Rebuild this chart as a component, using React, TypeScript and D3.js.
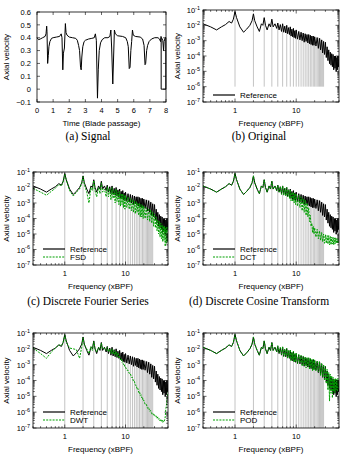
import React, {useEffect, useRef} from "react";
import * as d3 from "d3";

// axial velocity over eight blade passages: [time, velocity]
const signal: [number, number][] = [
	[0, 0.4], [0.1, 0.385], [0.2, 0.39], [0.35, 0.4], [0.5, 0.41], [0.56, 0.43], [0.6, 0.49], [0.62, 0.45],
	[0.66, 0.2], [0.7, 0.26], [0.74, 0.33], [0.8, 0.37], [0.9, 0.395], [1.0, 0.4], [1.2, 0.405], [1.4, 0.41],
	[1.5, 0.43], [1.55, 0.4], [1.6, 0.15], [1.64, 0.28], [1.7, 0.32], [1.76, 0.51], [1.8, 0.44], [1.86, 0.42],
	[2.0, 0.405], [2.2, 0.4], [2.4, 0.395], [2.5, 0.38], [2.58, 0.34], [2.64, 0.3], [2.7, 0.17], [2.74, 0.15],
	[2.78, 0.25], [2.84, 0.33], [2.92, 0.37], [3.0, 0.38], [3.2, 0.39], [3.4, 0.395], [3.55, 0.4], [3.62, 0.43],
	[3.68, 0.38], [3.75, -0.07], [3.8, 0.15], [3.86, 0.3], [3.94, 0.36], [4.04, 0.385], [4.2, 0.4], [4.4, 0.4],
	[4.52, 0.41], [4.58, 0.46], [4.63, 0.32], [4.7, 0.04], [4.75, 0.25], [4.8, 0.46], [4.86, 0.43], [5.0, 0.415],
	[5.3, 0.41], [5.5, 0.4], [5.6, 0.37], [5.66, 0.33], [5.72, 0.16], [5.77, 0.17], [5.82, 0.3], [5.87, 0.37],
	[5.92, 0.46], [5.97, 0.42], [6.1, 0.41], [6.4, 0.405], [6.55, 0.39], [6.64, 0.34], [6.7, 0.19], [6.74, 0.2],
	[6.8, 0.3], [6.86, 0.34], [6.95, 0.37], [7.1, 0.39], [7.3, 0.4], [7.5, 0.4], [7.6, 0.39], [7.66, 0.37],
	[7.69, 0.41], [7.72, 0.4], [7.8, 0.38], [7.85, 0.3], [7.88, 0.37], [7.95, 0.4], [7.99, 0.4], [7.99, 0],
	[7.7, 0], [7.7, 0.4],
];

const signalXTicks = [0, 1, 2, 3, 4, 5, 6, 7, 8];
const signalYTicks = [-0.1, 0, 0.1, 0.2, 0.3, 0.4, 0.5, 0.6];

// frequency grid (xBPF) shared by every spectrum
const frequencies = [
	0.3, 0.4, 0.5, 0.6, 0.7, 0.8, 0.88, 0.94, 1.0, 1.06,
	1.2, 1.38, 1.55, 1.75, 1.9, 2.0, 2.1, 2.3, 2.5, 2.7,
	2.85, 3.0, 3.15, 3.35, 3.6, 3.8, 4.0, 4.2, 4.5, 4.8,
	5.0, 5.25, 5.5, 5.75, 6.0, 6.25, 6.5, 6.75, 7.0, 7.25, 7.5, 7.75, 8.0, 8.25, 8.5, 8.75, 9.0, 9.25, 9.5, 9.75,
	10, 10.5, 11, 11.5, 12, 12.5, 13, 13.5, 14, 14.5, 15, 15.5, 16, 16.5, 17, 17.5, 18, 18.5, 19, 19.5,
	20, 21, 22, 23, 24, 25, 26, 27, 28, 29, 30, 31, 32, 33, 34, 35, 36, 37, 38, 39, 40,
	41, 42, 43, 44, 45, 46, 47, 48, 49, 50,
];

// log10 amplitudes on the grid above
const referenceLog = [
	-1.9, -2.1, -2.3, -2.1, -1.95, -1.75, -1.85, -1.6, -1.1, -1.5,
	-2.1, -2.45, -2.25, -2.0, -1.7, -1.25, -1.7, -2.1, -2.4, -1.9,
	-2.0, -1.5, -2.0, -2.3, -1.9, -2.1, -1.6, -2.1, -1.9, -2.2,
	-1.85, -2.3, -1.95, -2.4, -1.9, -2.45, -2.05, -2.5, -2.0, -2.55, -2.15, -2.6, -2.1, -2.7, -2.25, -2.75, -2.2, -2.8, -2.35, -2.85,
	-2.3, -2.9, -2.4, -2.95, -2.45, -3.0, -2.5, -3.1, -2.55, -3.05, -2.6, -3.15, -2.6, -3.2, -2.65, -3.25, -2.7, -3.3, -2.7, -3.3,
	-2.75, -3.35, -2.8, -3.5, -2.85, -3.6, -2.95, -3.8, -3.05, -3.9, -3.1, -4.1, -3.4, -4.3, -3.6, -4.5, -3.75, -4.6, -3.85, -4.7, -3.9,
	-4.9, -4.0, -4.8, -4.0, -5.0, -4.1, -4.9, -4.0, -4.7, -4.2,
];

const fsdLog = [
	-2.05, -2.3, -2.5, -2.25, -2.05, -1.8, -1.9, -1.65, -1.12, -1.55,
	-2.2, -2.55, -2.3, -2.1, -1.75, -1.3, -1.8, -2.3, -3.0, -2.0,
	-2.2, -1.55, -2.2, -2.6, -2.0, -2.4, -1.7, -2.3, -2.1, -2.6,
	-1.95, -2.6, -2.05, -2.8, -2.0, -2.7, -2.2, -3.0, -2.1, -2.9, -2.3, -3.1, -2.25, -3.2, -2.4, -3.1, -2.4, -3.3, -2.5, -3.4,
	-2.5, -3.3, -2.6, -3.4, -2.7, -3.5, -2.75, -3.6, -2.85, -3.7, -2.9, -3.6, -3.0, -3.8, -3.05, -3.9, -3.1, -3.9, -3.15, -4.0,
	-3.2, -4.0, -3.3, -4.1, -3.35, -4.2, -3.45, -4.3, -3.6, -4.5, -3.7, -4.6, -3.9, -4.8, -4.1, -5.0, -4.2, -5.2, -4.3, -5.3, -4.4,
	-5.5, -4.5, -5.4, -4.5, -5.8, -4.6, -5.6, -4.5, -5.5, -4.7,
];

const dctLog = [
	-1.9, -2.1, -2.3, -2.1, -1.95, -1.75, -1.85, -1.6, -1.1, -1.5,
	-2.1, -2.45, -2.25, -2.0, -1.7, -1.25, -1.7, -2.1, -2.4, -1.9,
	-2.0, -1.5, -2.0, -2.3, -1.9, -2.1, -1.6, -2.1, -1.9, -2.2,
	-1.85, -2.3, -1.95, -2.45, -1.9, -2.5, -2.05, -2.55, -2.0, -2.6, -2.15, -2.7, -2.15, -2.85, -2.3, -2.9, -2.3, -3.0, -2.4, -3.1,
	-2.4, -3.2, -2.5, -3.3, -2.6, -3.5, -2.7, -3.6, -2.8, -3.8, -3.0, -3.9, -3.3, -4.2, -3.8, -4.5, -4.3, -4.9, -4.5, -5.0,
	-4.6, -5.2, -4.7, -5.3, -4.8, -5.4, -4.9, -5.5, -5.0, -5.6, -5.05, -5.6, -5.1, -5.65, -5.1, -5.7, -5.15, -5.7, -5.2, -5.65, -5.2,
	-5.7, -5.25, -5.65, -5.25, -5.6, -5.3, -5.6, -5.3, -5.55, -5.35,
];

const dwtLog = [
	-1.95, -2.3, -2.6, -2.2, -1.95, -1.75, -1.8, -1.6, -1.12, -1.6,
	-1.95, -2.0, -2.05, -2.6, -1.9, -1.3, -1.75, -2.0, -2.3, -1.85,
	-2.1, -1.55, -2.0, -2.2, -1.9, -2.05, -1.65, -2.0, -1.95, -2.1,
	-1.9, -2.2, -2.0, -2.3, -2.0, -2.35, -2.1, -2.4, -2.15, -2.5, -2.25, -2.55, -2.45, -2.7, -2.6, -2.85, -2.8, -3.0, -2.95, -3.15,
	-3.15, -3.35, -3.35, -3.55, -3.55, -3.8, -3.8, -4.05, -4.05, -4.3, -4.3, -4.55, -4.5, -4.75, -4.7, -4.95, -4.9, -5.1, -5.05, -5.3,
	-5.25, -5.5, -5.5, -5.75, -5.7, -5.95, -5.9, -6.1, -6.05, -6.2, -6.15, -6.3, -6.25, -6.4, -6.3, -6.45, -6.4, -6.55, -6.45, -6.6, -6.5,
	-6.65, -6.55, -6.6, -6.5, -6.3, -5.8, -5.6, -5.2, -5.0, -4.7,
];

const podLog = [
	-1.9, -2.1, -2.3, -2.1, -1.95, -1.75, -1.85, -1.6, -1.1, -1.5,
	-2.1, -2.45, -2.25, -2.0, -1.7, -1.25, -1.7, -2.1, -2.4, -1.9,
	-2.0, -1.5, -2.0, -2.3, -1.9, -2.1, -1.6, -2.1, -1.9, -2.2,
	-1.8, -2.25, -1.9, -2.35, -1.85, -2.5, -2.0, -2.45, -1.95, -2.6, -2.1, -2.55, -2.05, -2.75, -2.2, -2.7, -2.15, -2.85, -2.3, -2.8,
	-2.25, -2.95, -2.35, -2.9, -2.4, -3.1, -2.45, -3.05, -2.5, -3.2, -2.55, -3.1, -2.55, -3.3, -2.6, -3.2, -2.65, -3.4, -2.65, -3.35,
	-2.7, -3.4, -2.75, -3.45, -2.8, -3.7, -2.9, -3.75, -3.0, -4.0, -3.1, -4.2, -3.3, -4.6, -3.5, -5.3, -3.6, -4.8, -3.7, -5.1, -3.8,
	-4.7, -3.9, -4.8, -3.85, -4.6, -3.9, -4.7, -3.85, -4.5, -4.0,
];

// blade passing harmonics marked with grey impulses
const harmonics = [1, 2, 3, 4, 5, 6, 7, 8, 9, 10, 11, 12, 13, 14, 15, 16, 17, 18, 19, 20, 21, 22, 23, 24, 25, 26, 27, 28];
const freqLabels = [1, 10];

const FONT = "'Liberation Sans', Arial, Helvetica, sans-serif";
const SERIF = "'Liberation Serif', 'Times New Roman', serif";
const GREEN = "#00a000";
const GREY = "#c4c4c4";

type Box = {left: number; right: number; top: number; bottom: number};
type Sel = d3.Selection<any, unknown, null, undefined>;

interface SpectrumPanel {
	id: string;
	box: Box;
	compare: number[] | null;
	name: string;
	floor: number;
	yLabelX: number;
}

const signalBox: Box = {left: 37, right: 166, top: 12, bottom: 102};

const panels: SpectrumPanel[] = [
	{id: "b", box: {left: 203, right: 339, top: 10, bottom: 102}, compare: null, name: "", floor: 1e-6, yLabelX: 177},
	{id: "c", box: {left: 33, right: 168, top: 172, bottom: 265}, compare: fsdLog, name: "FSD", floor: 1e-7, yLabelX: 6},
	{id: "d", box: {left: 203, right: 339, top: 172, bottom: 265}, compare: dctLog, name: "DCT", floor: 1e-7, yLabelX: 177},
	{id: "e", box: {left: 33, right: 168, top: 333, bottom: 428}, compare: dwtLog, name: "DWT", floor: 1e-7, yLabelX: 6},
	{id: "f", box: {left: 203, right: 339, top: 333, bottom: 428}, compare: podLog, name: "POD", floor: 1e-7, yLabelX: 177},
];

const captions = [
	{text: "(a) Signal", x: 88, y: 140},
	{text: "(b) Original", x: 259, y: 140},
	{text: "(c) Discrete Fourier Series", x: 88, y: 305},
	{text: "(d) Discrete Cosine Transform", x: 259, y: 305},
];

function drawFrame(g: Sel, box: Box) {
	g.append("rect")
		.attr("x", box.left)
		.attr("y", box.top)
		.attr("width", box.right - box.left)
		.attr("height", box.bottom - box.top)
		.attr("fill", "none")
		.attr("stroke", "#000")
		.attr("stroke-width", 0.8);
}

// gnuplot style: ticks point inward and are mirrored on the opposite side
function xTick(g: Sel, box: Box, x: number, len: number) {
	g.append("line").attr("x1", x).attr("x2", x).attr("y1", box.bottom).attr("y2", box.bottom - len);
	g.append("line").attr("x1", x).attr("x2", x).attr("y1", box.top).attr("y2", box.top + len);
}

function yTick(g: Sel, box: Box, y: number, len: number) {
	g.append("line").attr("y1", y).attr("y2", y).attr("x1", box.left).attr("x2", box.left + len);
	g.append("line").attr("y1", y).attr("y2", y).attr("x1", box.right).attr("x2", box.right - len);
}

function axisTitles(g: Sel, box: Box, xTitle: string, yLabelX: number) {
	g.append("text")
		.attr("x", (box.left + box.right) / 2)
		.attr("y", box.bottom + 23.5)
		.attr("text-anchor", "middle")
		.style("font-size", "8px")
		.text(xTitle);
	const cy = (box.top + box.bottom) / 2;
	g.append("text")
		.attr("transform", `translate(${yLabelX + 3}, ${cy}) rotate(-90)`)
		.attr("text-anchor", "middle")
		.style("font-size", "8px")
		.text("Axial velocity");
}

function drawSignal(svg: Sel) {
	const box = signalBox;
	const g = svg.append("g").style("font-family", FONT);
	const x = d3.scaleLinear().domain([0, 8]).range([box.left, box.right]);
	const y = d3.scaleLinear().domain([-0.1, 0.6]).range([box.bottom, box.top]);

	const line = d3
		.line<[number, number]>()
		.x((d) => x(d[0]))
		.y((d) => y(d[1]));

	g.append("path")
		.datum(signal)
		.attr("fill", "none")
		.attr("stroke", "#000")
		.attr("stroke-width", 1)
		.attr("stroke-linejoin", "round")
		.attr("d", line);

	const ticks = g.append("g").attr("stroke", "#000").attr("stroke-width", 0.6);
	signalXTicks.forEach((t) => xTick(ticks, box, x(t), 3));
	signalYTicks.forEach((v) => yTick(ticks, box, y(v), 3));
	drawFrame(g, box);

	signalXTicks.forEach((t) => {
		g.append("text")
			.attr("x", x(t))
			.attr("y", box.bottom + 11)
			.attr("text-anchor", "middle")
			.style("font-size", "7.5px")
			.text(String(t));
	});
	signalYTicks.forEach((v) => {
		g.append("text")
			.attr("x", box.left - 6)
			.attr("y", y(v) + 2.7)
			.attr("text-anchor", "end")
			.style("font-size", "7.5px")
			.text(d3.format(".1~f")(v));
	});

	axisTitles(g, box, "Time (Blade passage)", 6);
}

function drawSpectrum(svg: Sel, p: SpectrumPanel) {
	const box = p.box;
	const g = svg.append("g").style("font-family", FONT);
	const x = d3.scaleLog().domain([0.3, 50]).range([box.left, box.right]);
	const y = d3.scaleLog().domain([1e-7, 1e-1]).range([box.bottom, box.top]);

	const clipId = `clip-${p.id}`;
	g.append("clipPath")
		.attr("id", clipId)
		.append("rect")
		.attr("x", box.left)
		.attr("y", box.top)
		.attr("width", box.right - box.left)
		.attr("height", box.bottom - box.top);

	const plot = g.append("g").attr("clip-path", `url(#${clipId})`);

	// grey impulses at blade passing harmonics, up to the reference envelope
	harmonics.forEach((h) => {
		const i = frequencies.indexOf(h);
		const top = Math.max(referenceLog[i - 1], referenceLog[i], referenceLog[i + 1] ?? referenceLog[i]);
		plot.append("line")
			.attr("x1", x(h))
			.attr("x2", x(h))
			.attr("y1", y(p.floor))
			.attr("y2", y(Math.pow(10, top)))
			.attr("stroke", GREY)
			.attr("stroke-width", 1);
	});

	const line = d3
		.line<number>()
		.x((_, i) => x(frequencies[i]))
		.y((d) => y(Math.pow(10, d)));

	plot.append("path")
		.datum(referenceLog)
		.attr("fill", "none")
		.attr("stroke", "#000")
		.attr("stroke-width", 1)
		.attr("d", line);

	if (p.compare) {
		plot.append("path")
			.datum(p.compare)
			.attr("fill", "none")
			.attr("stroke", GREEN)
			.attr("stroke-width", 1)
			.attr("stroke-dasharray", "2,1.2")
			.attr("d", line);
	}

	const ticks = g.append("g").attr("stroke", "#000").attr("stroke-width", 0.6);
	x.ticks().forEach((f) => {
		const major = Math.abs(Math.log10(f) - Math.round(Math.log10(f))) < 1e-9;
		xTick(ticks, box, x(f), major ? 3.5 : 1.8);
	});
	y.ticks().forEach((v) => {
		const major = Math.abs(Math.log10(v) - Math.round(Math.log10(v))) < 1e-9;
		yTick(ticks, box, y(v), major ? 3.5 : 1.8);
	});
	drawFrame(g, box);

	freqLabels.forEach((f) => {
		g.append("text")
			.attr("x", x(f))
			.attr("y", box.bottom + 11)
			.attr("text-anchor", "middle")
			.style("font-size", "7.5px")
			.text(String(f));
	});

	y.ticks()
		.filter((v) => Math.abs(Math.log10(v) - Math.round(Math.log10(v))) < 1e-9)
		.forEach((v) => {
			const label = g.append("text")
				.attr("x", box.left - 3)
				.attr("y", y(v) + 3)
				.attr("text-anchor", "end")
				.style("font-size", "7.5px");
			label.append("tspan").text("10");
			label.append("tspan")
				.attr("dy", -3.2)
				.style("font-size", "5.5px")
				.text(String(Math.round(Math.log10(v))));
		});

	axisTitles(g, box, "Frequency (xBPF)", p.yLabelX);

	// legend in the lower left corner
	const entries: {name: string; color: string; dash: string | null}[] = [
		{name: "Reference", color: "#000", dash: null},
	];
	if (p.compare) entries.push({name: p.name, color: GREEN, dash: "2,1.2"});
	entries.forEach((e, k) => {
		const ly = box.bottom - 8 * (entries.length - k) + (p.compare ? 0 : 1);
		g.append("line")
			.attr("x1", box.left + 10)
			.attr("x2", box.left + 32)
			.attr("y1", ly)
			.attr("y2", ly)
			.attr("stroke", e.color)
			.attr("stroke-width", 1.2)
			.attr("stroke-dasharray", e.dash ?? null);
		g.append("text")
			.attr("x", box.left + 37)
			.attr("y", ly + 2.8)
			.style("font-size", "8px")
			.text(e.name);
	});
}

const App: React.FC = () => {
	const svgRef = useRef<SVGSVGElement>(null);

	useEffect(() => {
		const svg = d3.select(svgRef.current) as Sel;
		svg.selectAll("*").remove();

		drawSignal(svg);
		panels.forEach((p) => drawSpectrum(svg, p));

		captions.forEach((c) => {
			svg.append("text")
				.attr("x", c.x)
				.attr("y", c.y)
				.attr("text-anchor", "middle")
				.style("font-family", SERIF)
				.style("font-size", "11.5px")
				.text(c.text);
		});
	}, []);

	return (
		<svg
			ref={svgRef}
			width={345}
			height={460}
			style={{position: "absolute", left: 0, top: 0, background: "#fff"}}
		/>
	);
};

export default App;
